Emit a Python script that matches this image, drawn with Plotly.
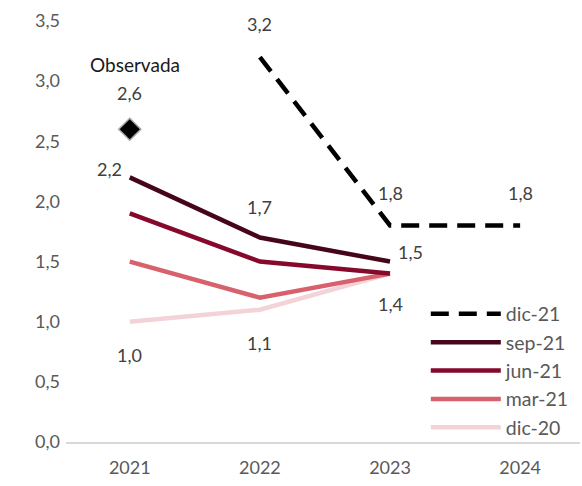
import plotly.graph_objects as go

years = ["2021", "2022", "2023", "2024"]

dic21 = [None, 3.2, 1.8, 1.8]
sep21 = [2.2, 1.7, 1.5, None]
jun21 = [1.9, 1.5, 1.4, None]
mar21 = [1.5, 1.2, 1.4, None]
dic20 = [1.0, 1.1, 1.4, None]

observed_year = "2021"
observed_value = 2.6

y_ticks = [0.0, 0.5, 1.0, 1.5, 2.0, 2.5, 3.0, 3.5]

FONT = "Lato, 'Open Sans', sans-serif"
TICK_GREY = "#595959"
LABEL_GREY = "#404040"
FS = 18


def fmt(v):
    return f"{v:.1f}".replace(".", ",")


fig = go.Figure()

series = [
    ("dic-21", dic21, "#000000", "18px,10px"),
    ("sep-21", sep21, "#45061a", "solid"),
    ("jun-21", jun21, "#86092c", "solid"),
    ("mar-21", mar21, "#d7616d", "solid"),
    ("dic-20", dic20, "#f4d3d8", "solid"),
]

# draw the lightest vintage first so the darker lines sit on top
for name, vals, color, dash in reversed(series):
    fig.add_trace(go.Scatter(
        x=years, y=vals, mode="lines", name=name,
        line=dict(color=color, width=4.5, dash=dash),
        connectgaps=False,
    ))

fig.add_trace(go.Scatter(
    x=[observed_year], y=[observed_value], mode="markers",
    marker=dict(symbol="diamond", size=17, color="#000000",
                line=dict(color="#a6a6a6", width=1.5)),
    showlegend=False,
))

# value labels: (series values, year index, x shift, y shift)
labels = [
    (dic21, 1, 0, 33),
    (dic21, 2, 0, 32),
    (dic21, 3, 0, 32),
    (sep21, 0, -20, 8),
    (sep21, 1, 0, 31),
    (sep21, 2, 20, 10),
    (jun21, 2, 0, -30),
    (dic20, 0, 0, -33),
    (dic20, 1, 0, -33),
]
# category axes take annotation x as the category's serial position
for vals, i, dx, dy in labels:
    fig.add_annotation(
        x=i, y=vals[i], text=fmt(vals[i]), showarrow=False,
        xshift=dx, yshift=dy,
        font=dict(family=FONT, size=FS, color=LABEL_GREY),
    )

obs_i = years.index(observed_year)
fig.add_annotation(
    x=obs_i, y=observed_value, text=fmt(observed_value),
    showarrow=False, yshift=36,
    font=dict(family=FONT, size=FS, color=LABEL_GREY),
)
fig.add_annotation(
    x=obs_i, y=observed_value, text="Observada",
    showarrow=False, yshift=65, xshift=5,
    font=dict(family=FONT, size=19, color="#1a1a1a"),
)

fig.update_layout(
    width=582, height=486,
    margin=dict(l=66, r=2, t=21, b=44),
    paper_bgcolor="white", plot_bgcolor="white",
    font=dict(family=FONT, size=FS, color=TICK_GREY),
    showlegend=True,
    legend=dict(
        x=0.70, y=0.35, xanchor="left", yanchor="top",
        traceorder="reversed", bgcolor="rgba(0,0,0,0)",
        font=dict(family=FONT, size=19.5, color=TICK_GREY),
        itemwidth=70, tracegroupgap=0,
    ),
    xaxis=dict(
        type="category", categoryorder="array", categoryarray=years,
        range=[-0.49, 3.46], showgrid=False, zeroline=False,
        showline=True, linecolor="#d9d9d9", linewidth=2,
        ticks="", ticklabelstandoff=8,
        tickfont=dict(family=FONT, size=FS, color=TICK_GREY),
    ),
    yaxis=dict(
        range=[0, 3.5], tickvals=y_ticks,
        ticktext=[fmt(v) for v in y_ticks],
        showgrid=False, zeroline=False, showline=False, ticks="",
        ticklabelstandoff=5,
        tickfont=dict(family=FONT, size=FS, color=TICK_GREY),
    ),
)

fig.write_html("out.html")
